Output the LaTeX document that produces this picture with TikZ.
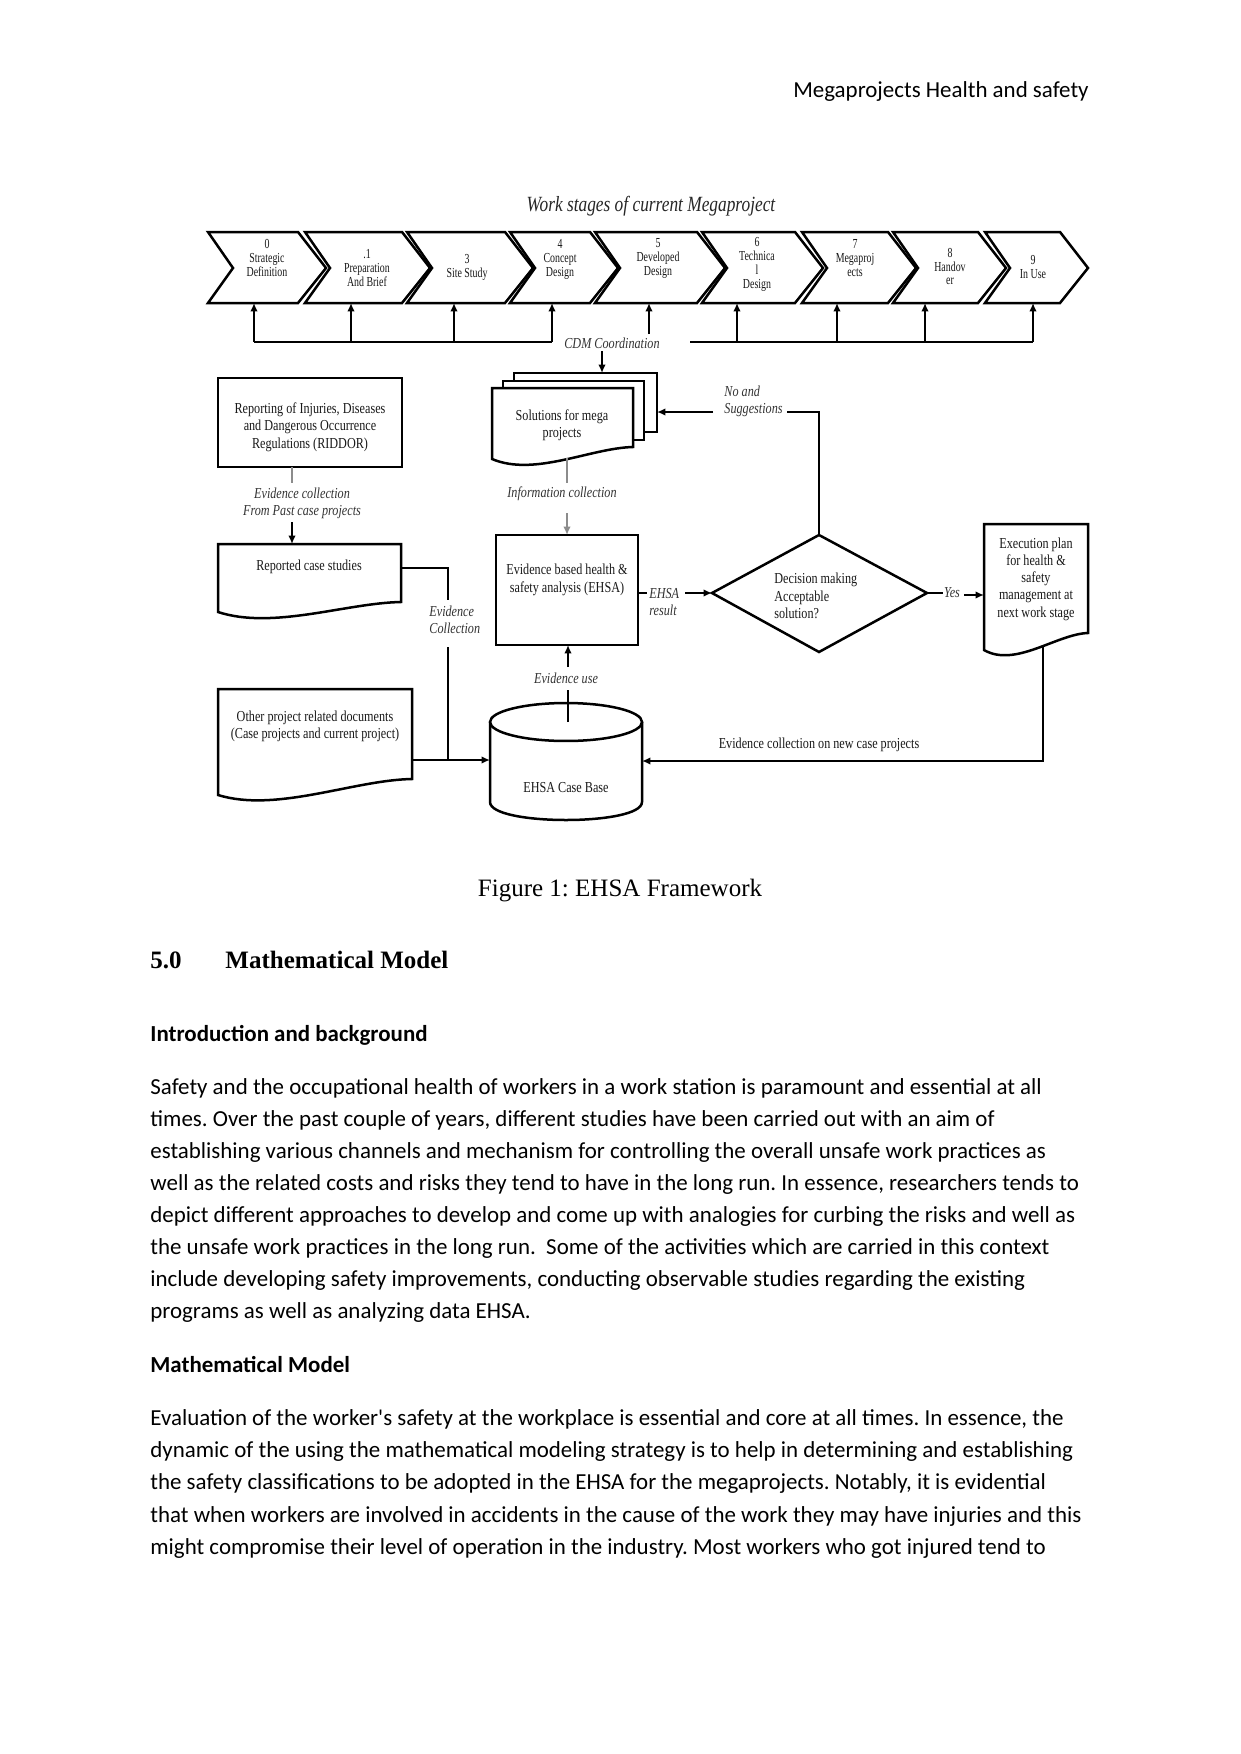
\documentclass[tikz,border=0pt]{standalone}
\usepackage{fontspec}
\setmainfont{Carlito}[Ligatures=TeXOff]
\newfontfamily\tms{Liberation Serif}
\newfontfamily\dg[FakeStretch=0.8]{Liberation Serif}
\newfontfamily\dgc[FakeStretch=0.72]{Liberation Serif}
\usetikzlibrary{arrows.meta}
\frenchspacing
\newcommand\chevron[3]{%
  \draw[shp] (#2,232) -- (#3,232) -- ({#3+28},268) -- (#3,303) -- (#2,303) -- ({#2+25},268) -- cycle;
  \coordinate (#1) at ({(#2+#3)/2+13},268);}
\newcommand\docshape[5]{%
  \draw[shp] (#1,#3) -- (#2,#3) -- (#2,#4)
    .. controls ({#1+0.7*(#2-#1)},{#4+1}) and ({#1+0.3*(#2-#1)},{#5+18}) .. (#1,#5) -- cycle;}
\begin{document}
\begin{tikzpicture}[x=0.4797pt,y=-0.4797pt,
  ln/.style={line width=1.1pt,black},
  arr/.style={ln,-{Latex[length=4pt,width=3.6pt]}},
  gln/.style={line width=1.1pt,black!45},
  garr/.style={gln,-{Latex[length=4pt,width=3.6pt]}},
  shp/.style={line width=1.2pt,black,fill=white},
  dtxt/.style={font=\dg\fontsize{7.3}{8.3}\selectfont,align=center,inner sep=0,text=black!90},
  lbl/.style={font=\dg\itshape\fontsize{7.3}{8.3}\selectfont,align=center,inner sep=0,text=black!80},
  ctxt/.style={font=\dgc\fontsize{6.6}{6.7}\selectfont,align=center,inner sep=0,text=black!90},
  body/.style={font=\fontsize{11}{13}\selectfont,anchor=base west,inner sep=0},
  bhead/.style={font=\bfseries\fontsize{11}{13}\selectfont,anchor=base west,inner sep=0},
]
\path[use as bounding box,fill=white] (0,0) rectangle (1241,1754);

% header
\node[font=\fontsize{11}{13}\selectfont,anchor=base east,inner sep=0] (hdr) at (1089,97.5) {Megaprojects Health and safety};

% title
\node[font=\dg\itshape\fontsize{10.4}{12}\selectfont,inner sep=0,text=black!85] (title) at (651,206) {Work stages of current Megaproject};

% chevrons
\chevron{ch1}{208}{298}
\chevron{ch2}{305}{402}
\chevron{ch3}{407}{505}
\chevron{ch4}{510}{590}
\chevron{ch5}{595}{697}
\chevron{ch6}{702}{795}
\chevron{ch7}{802}{888}
\chevron{ch8}{893}{978}
\chevron{ch9}{985}{1060}
\node[ctxt] (t1) at (267,258) {0\\Strategic\\Definition};
\node[ctxt] (t2) at (367,268) {.1\\Preparation\\And Brief};
\node[ctxt] (t3) at (467,267.5) {3\\Site Study};
\node[ctxt] (t4) at (560,259.5) {4\\Concept\\Design};
\node[ctxt] (t5) at (658,258.5) {5\\Developed\\Design};
\node[ctxt] (t6) at (757,264.5) {6\\Technica\\l\\Design};
\node[ctxt] (t7) at (855,258) {7\\Megaproj\\ects};
\node[ctxt] (t8) at (950,266.5) {8\\Handov\\er};
\node[ctxt] (t9) at (1033,267) {9\\In Use};

% CDM coordination bus
\node[lbl] (cdm) at (612,343) {CDM Coordination};
\foreach \i/\x in {1/254,2/351,3/454,4/552,6/737,7/837,8/925,9/1033}{
  \coordinate (bus\i) at (\x,342);
  \coordinate (cb\i) at (\x,303);
  \draw[arr] (bus\i) -- (cb\i);
}
\coordinate (busR) at (690,342);
\draw[ln] (bus1) -- (bus4);
\draw[ln] (busR) -- (bus9);
\coordinate (cdm5) at (649,334);
\coordinate (cb5) at (649,303);
\draw[arr] (cdm5) -- (cb5);

% Solutions (multi-document)
\draw[shp] (514,373) rectangle (657,432);
\draw[shp] (503,381) rectangle (644,440);
\docshape{492}{633}{388}{447}{459}
\node[dtxt] (sol) at (562,425) {Solutions for mega\\projects};
\coordinate (cdmd) at (602,351);
\coordinate (soltop) at (602,373);
\draw[arr] (cdmd) -- (soltop);

% RIDDOR
\draw[shp] (218,378) rectangle (402,467);
\node[dtxt] (riddor) at (310,427) {Reporting of Injuries, Diseases\\and Dangerous Occurrence\\Regulations (RIDDOR)};
\coordinate (ridB) at (292,467);
\coordinate (ridL) at (292,483);
\draw[gln] (ridB) -- (ridL);
\node[lbl] (evc1) at (302,503) {Evidence collection\\From Past case projects};
\coordinate (evcB) at (292,522);
\coordinate (repT) at (292,544);
\draw[arr] (evcB) -- (repT);

% Reported case studies
\docshape{218}{401}{544}{602}{612}
\node[dtxt] (rep) at (309,567) {Reported case studies};
\coordinate (repR) at (401,568);
\coordinate (ev2a) at (448,600);
\draw[ln] (repR) -| (ev2a);
\node[lbl,align=left,anchor=west] (evc2) at (429,620) {Evidence\\Collection};
\coordinate (ev2b) at (448,647);
\coordinate (ev2c) at (448,760);
\draw[ln] (ev2b) -- (ev2c);

% Information collection
\coordinate (solB) at (567,458);
\coordinate (infA) at (567,483);
\draw[gln] (solB) -- (infA);
\node[lbl] (inf) at (562,494) {Information collection};
\coordinate (infB) at (567,513);
\coordinate (ehT) at (567,535);
\draw[garr] (infB) -- (ehT);

% EHSA box
\draw[shp] (496,535) rectangle (638,645);
\node[dtxt] (ehsa) at (567,580) {Evidence based health \&\\safety analysis (EHSA)};

% EHSA result
\coordinate (ehR) at (638,593);
\coordinate (ehR2) at (647,593);
\draw[ln] (ehR) -- (ehR2);
\node[lbl,align=left,anchor=west] (res) at (649,602) {EHSA\\result};
\coordinate (resR) at (685,593);
\coordinate (dL) at (712,593);
\draw[arr] (resR) -- (dL);

% Decision diamond
\coordinate (dT) at (819,535);
\coordinate (dR) at (927,593);
\coordinate (dB) at (819,652);
\draw[shp] (dL) -- (dT) -- (dR) -- (dB) -- cycle;
\node[dtxt,align=left,anchor=west] (dec) at (774,596) {Decision making\\Acceptable\\solution?};

% No and Suggestions
\node[lbl,align=left,anchor=west] (nos) at (724,401) {No and\\Suggestions};
\coordinate (nosR) at (787,412);
\coordinate (nosC) at (819,412);
\draw[ln] (dT) -- (nosC) -- (nosR);
\coordinate (nosL) at (713,412);
\coordinate (solR) at (657,412);
\draw[arr] (nosL) -- (solR);

% Yes
\coordinate (yesA) at (943,593);
\draw[ln] (dR) -- (yesA);
\node[lbl] (yes) at (952,593) {Yes};
\coordinate (yesB) at (964,595);
\coordinate (exL) at (984,595);
\draw[arr] (yesB) -- (exL);

% Execution plan
\docshape{984}{1088}{524}{633}{650}
\node[dtxt] (exe) at (1036,579) {Execution plan\\for health \&\\safety\\management at\\next work stage};

% Cylinder
\draw[shp] (490,722) -- (490,802) .. controls (490,826) and (642,826) .. (642,802) -- (642,722);
\draw[shp] (566,722) ellipse [x radius=36.46pt, y radius=9.11pt];
\node[dtxt] (cyl) at (566,788) {EHSA Case Base};
\coordinate (cylT) at (568,722);
\coordinate (euA) at (568,690);
\draw[ln] (cylT) -- (euA);
\node[lbl] (eu) at (566,678) {Evidence use};
\coordinate (euB) at (568,667);
\coordinate (ehB) at (568,645);
\draw[arr] (euB) -- (ehB);

% Other project documents
\docshape{218}{412}{689}{779}{795}
\node[dtxt] (oth) at (315,726.5) {Other project related documents\\(Case projects and current project)};
\coordinate (othR) at (412,760);
\coordinate (cylL) at (490,760);
\draw[arr] (othR) -- (cylL);

% new case projects
\coordinate (exB) at (1043,647);
\coordinate (cylR) at (642,761);
\draw[arr] (exB) |- (cylR);
\node[dtxt] (newc) at (819,745) {Evidence collection on new case projects};

% caption
\node[font=\tms\fontsize{12}{14}\selectfont,anchor=base,inner sep=0] (cap) at (620,896) {Figure 1: EHSA Framework};
\node[font=\tms\bfseries\fontsize{12}{14}\selectfont,anchor=base west,inner sep=0] (sec) at (150,968) {5.0};
\node[font=\tms\bfseries\fontsize{12}{14}\selectfont,anchor=base west,inner sep=0] (sect) at (225,968) {Mathematical Model};

\node[bhead] (h1) at (150,1041.5) {Introduction and background};
\node[body] (p1) at (150,1094) {Safety and the occupational health of workers in a work station is paramount and essential at all};
\node[body] (p2) at (150,1126.1) {times. Over the past couple of years, different studies have been carried out with an aim of};
\node[body] (p3) at (150,1158.2) {establishing various channels and mechanism for controlling the overall unsafe work practices as};
\node[body] (p4) at (150,1190.3) {well as the related costs and risks they tend to have in the long run. In essence, researchers tends to};
\node[body] (p5) at (150,1222.4) {depict different approaches to develop and come up with analogies for curbing the risks and well as};
\node[body] (p6) at (150,1254.5) {the unsafe work practices in the long run.\ \ Some of the activities which are carried in this context};
\node[body] (p7) at (150,1286.6) {include developing safety improvements, conducting observable studies regarding the existing};
\node[body] (p8) at (150,1318.7) {programs as well as analyzing data EHSA.};

\node[bhead] (h2) at (150,1372.5) {Mathematical Model};
\node[body] (q1) at (150,1425.2) {Evaluation of the worker's safety at the workplace is essential and core at all times. In essence, the};
\node[body] (q2) at (150,1457.6) {dynamic of the using the mathematical modeling strategy is to help in determining and establishing};
\node[body] (q3) at (150,1489.9) {the safety classifications to be adopted in the EHSA for the megaprojects. Notably, it is evidential};
\node[body] (q4) at (150,1522.3) {that when workers are involved in accidents in the cause of the work they may have injuries and this};
\node[body] (q5) at (150,1554.6) {might compromise their level of operation in the industry. Most workers who got injured tend to};
\end{tikzpicture}
\end{document}
